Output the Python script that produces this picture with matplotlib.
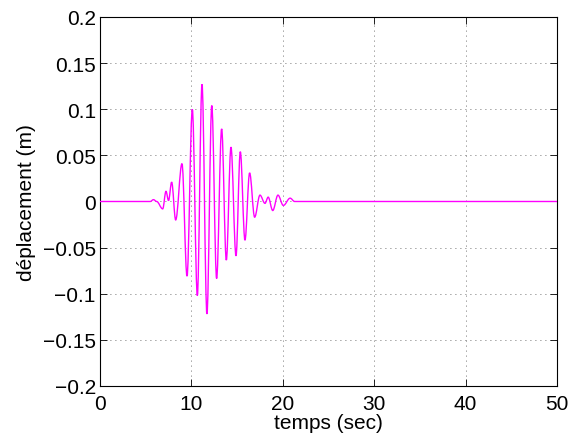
import matplotlib
matplotlib.use("Agg")
import matplotlib.pyplot as plt
from matplotlib.path import Path
from matplotlib.patches import PathPatch

# extrema of the response (time in s, displacement in m)
t_pts = [0.0, 5.5, 5.85, 6.2, 6.86, 7.22, 7.5, 7.84, 8.28, 8.97, 9.52, 10.1,
         10.65, 11.16, 11.7, 12.23, 12.76, 13.31, 13.82, 14.33, 14.88, 15.35,
         15.86, 16.37, 16.92, 17.5, 18.05, 18.4, 18.9, 19.47, 20.06, 20.8,
         21.3, 50.0]
d_pts = [0.0, 0.0, 0.002, 0.0, -0.008, 0.011, 0.001, 0.021, -0.020, 0.041,
         -0.081, 0.100, -0.102, 0.127, -0.122, 0.104, -0.0835, 0.0788, -0.0636,
         0.059, -0.059, 0.054, -0.042, 0.031, -0.017, 0.0069, -0.002, 0.0047,
         -0.0098, 0.0069, -0.0043, 0.0036, 0.0, 0.0]

xticks = [0, 10, 20, 30, 40, 50]
yticks = [-0.2, -0.15, -0.1, -0.05, 0, 0.05, 0.1, 0.15, 0.2]
ytick_labels = ["\u22120.2", "\u22120.15", "\u22120.1", "\u22120.05", "0",
                "0.05", "0.1", "0.15", "0.2"]

plt.rcParams['font.family'] = ['Liberation Sans', 'DejaVu Sans']
plt.rcParams['font.size'] = 15

fig = plt.figure(figsize=(5.78, 4.39), dpi=100)
ax = fig.add_axes([0.173, 0.1185, 0.7907, 0.8405])

# smooth path through the extrema (flat tangent at each one)
verts = [(t_pts[0], d_pts[0])]
codes = [Path.MOVETO]
for i in range(1, len(t_pts)):
    t0, t1 = t_pts[i - 1], t_pts[i]
    v0, v1 = d_pts[i - 1], d_pts[i]
    dt = t1 - t0
    verts += [(t0 + 0.36 * dt, v0), (t1 - 0.36 * dt, v1), (t1, v1)]
    codes += [Path.CURVE4] * 3
ax.add_patch(PathPatch(Path(verts, codes), facecolor='none',
                       edgecolor='#ff00ff', lw=1.0, zorder=3))

ax.set_xlim(0, 50)
ax.set_ylim(-0.2, 0.2)
ax.set_xticks(xticks)
ax.set_yticks(yticks)
ax.set_yticklabels(ytick_labels)
ax.grid(True, color='#444444', linestyle=(0, (1, 5)), linewidth=0.6)
ax.tick_params(direction='in', top=True, right=True, length=5, width=0.6)
ax.tick_params(axis='x', pad=6)
ax.tick_params(axis='y', pad=3)
for s in ax.spines.values():
    s.set_linewidth(0.8)

ax.set_xlabel('temps (sec)', labelpad=0)
ax.set_ylabel('déplacement (m)', labelpad=5)

fig.savefig('out.png', dpi=100)
